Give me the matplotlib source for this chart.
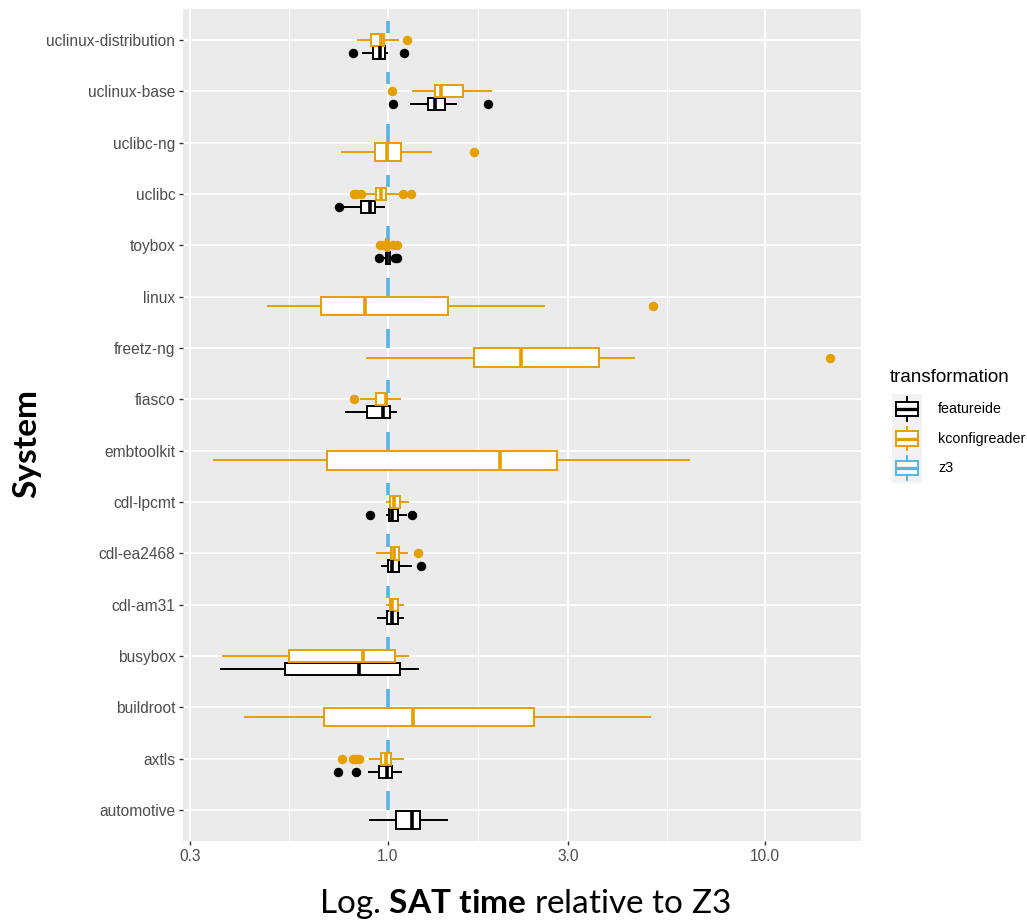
import matplotlib
matplotlib.use("Agg")
import matplotlib.pyplot as plt
from matplotlib.patches import Rectangle
from matplotlib.ticker import FixedLocator, NullFormatter
import numpy as np

plt.rcParams['mathtext.fontset'] = 'custom'
plt.rcParams['mathtext.rm'] = 'Lato'
plt.rcParams['mathtext.bf'] = 'Lato:bold'

# categories, top to bottom
systems = ["uclinux-distribution", "uclinux-base", "uclibc-ng", "uclibc", "toybox",
           "linux", "freetz-ng", "fiasco", "embtoolkit", "cdl-lpcmt", "cdl-ea2468",
           "cdl-am31", "busybox", "buildroot", "axtls", "automotive"]

# featureide box stats (relative SAT time)
fide_systems = ["uclinux-distribution", "uclinux-base", "uclibc", "toybox", "fiasco",
                "cdl-lpcmt", "cdl-ea2468", "cdl-am31", "busybox", "axtls", "automotive"]
fide_lo = [0.857, 1.151, 0.750, 0.975, 0.775, 0.998, 0.968, 0.943, 0.362, 0.892, 0.898]
fide_q1 = [0.912, 1.279, 0.851, 0.990, 0.883, 1.008, 1.002, 0.998, 0.533, 0.948, 1.050]
fide_med = [0.952, 1.332, 0.898, 0.998, 0.971, 1.029, 1.025, 1.025, 0.839, 0.998, 1.158]
fide_q3 = [0.986, 1.419, 0.924, 1.012, 1.012, 1.061, 1.071, 1.061, 1.078, 1.023, 1.216]
fide_hi = [0.998, 1.515, 0.978, 1.030, 1.054, 1.116, 1.151, 1.100, 1.199, 1.083, 1.434]
fide_out = [[0.808, 1.103], [1.033, 1.839], [0.743], [0.945, 1.045, 1.06], [],
            [0.896, 1.158], [1.228], [], [], [0.737, 0.822], []]

# kconfigreader box stats
kconf_systems = ["uclinux-distribution", "uclinux-base", "uclibc-ng", "uclibc", "toybox",
                 "linux", "freetz-ng", "fiasco", "embtoolkit", "cdl-lpcmt", "cdl-ea2468",
                 "cdl-am31", "busybox", "buildroot", "axtls"]
kconf_lo = [0.832, 1.163, 0.754, 0.878, 0.985, 0.481, 0.879, 0.848, 0.346, 0.994, 0.935,
            0.994, 0.367, 0.418, 0.898]
kconf_q1 = [0.901, 1.335, 0.924, 0.931, 0.992, 0.666, 1.694, 0.928, 0.688, 1.014, 1.018,
            1.014, 0.548, 0.678, 0.958]
kconf_med = [0.958, 1.382, 0.998, 0.958, 1.000, 0.871, 2.253, 0.990, 1.983, 1.039, 1.039,
             1.029, 0.860, 1.163, 0.988]
kconf_q3 = [0.976, 1.578, 1.083, 0.988, 1.010, 1.440, 3.620, 0.998, 2.814, 1.078, 1.071,
            1.061, 1.044, 2.445, 1.018]
kconf_hi = [1.063, 1.876, 1.300, 1.069, 1.020, 2.600, 4.480, 1.074, 6.290, 1.132, 1.123,
            1.094, 1.132, 4.950, 1.094]
kconf_out = [[1.123], [1.029], [1.688], [0.814, 0.825, 0.848, 1.094, 1.151],
             [0.955, 0.975, 1.035, 1.06], [5.05], [14.86], [0.814], [], [], [1.204],
             [], [], [], [0.757, 0.81, 0.825, 0.839]]

# z3 is the reference: always 1.0
z3_systems = list(systems)
z3_value = 1.0

groups = ["featureide", "kconfigreader", "z3"]
colors = {"featureide": "#000000", "kconfigreader": "#E69F00", "z3": "#56B4E9"}

W, H = 1027, 921
fig = plt.figure(figsize=(W / 100, H / 100), dpi=100)
ax_l, ax_r, ax_t, ax_b = 183, 861, 9, 841
ax = fig.add_axes([ax_l / W, 1 - ax_b / H, (ax_r - ax_l) / W, (ax_b - ax_t) / H])
ax.set_facecolor("#EBEBEB")

n_sys = len(systems)
ypos = {s: n_sys - 1 - i for i, s in enumerate(systems)}
members = {g: set(m) for g, m in zip(groups, [fide_systems, kconf_systems, z3_systems])}


def dodge(sysname, group):
    present = [g for g in groups if sysname in members[g]]
    n = len(present)
    slot = 0.75 / n
    j = present.index(group)
    return ypos[sysname] + (j - (n - 1) / 2) * slot, slot * 0.96


def make_stats(names, lo, q1, med, q3, hi, out):
    return [dict(whislo=a, q1=b, med=c, q3=d, whishi=e, fliers=f, label=nm)
            for nm, a, b, c, d, e, f in zip(names, lo, q1, med, q3, hi, out)]


fide_stats = make_stats(fide_systems, fide_lo, fide_q1, fide_med, fide_q3, fide_hi, fide_out)
kconf_stats = make_stats(kconf_systems, kconf_lo, kconf_q1, kconf_med, kconf_q3, kconf_hi, kconf_out)
z3_stats = make_stats(z3_systems, *([[z3_value] * len(z3_systems)] * 5), [[] for _ in z3_systems])

for g, st in zip(groups, [fide_stats, kconf_stats, z3_stats]):
    c = colors[g]
    pos, wid = zip(*[dodge(s["label"], g) for s in st])
    ax.bxp(st, positions=pos, widths=wid, orientation="horizontal", patch_artist=True,
           showcaps=False, manage_ticks=False,
           boxprops=dict(facecolor="white", edgecolor=c, linewidth=1.4),
           whiskerprops=dict(color=c, linewidth=1.4),
           medianprops=dict(color=c, linewidth=2.6, solid_capstyle="butt"),
           flierprops=dict(marker="o", markerfacecolor=c, markeredgecolor=c,
                           markersize=5.8, linestyle="none"))

ax.set_xscale("log")
ax.set_xlim(0.2867, 17.93)
ax.set_ylim(-0.6, n_sys - 0.4)
ax.set_xticks([0.3, 1, 3, 10])
ax.set_xticklabels(["0.3", "1.0", "3.0", "10.0"])
ax.xaxis.set_minor_locator(FixedLocator([np.sqrt(0.3), np.sqrt(3), np.sqrt(30)]))
ax.xaxis.set_minor_formatter(NullFormatter())
ax.set_yticks([ypos[s] for s in systems])
ax.set_yticklabels(systems)
ax.grid(which="major", color="white", linewidth=1.4)
ax.grid(which="minor", axis="x", color="white", linewidth=0.7)
ax.set_axisbelow(True)
for sp in ax.spines.values():
    sp.set_visible(False)
ax.tick_params(which="major", length=3, width=1.0, color="#333333", labelcolor="#4D4D4D",
               labelsize=11.2, pad=2.5)
ax.tick_params(which="minor", length=0)
for lab in ax.get_xticklabels() + ax.get_yticklabels():
    lab.set_fontfamily("Liberation Sans")

# overlay in pixel coordinates for titles and legend
ov = fig.add_axes([0, 0, 1, 1])
ov.set_xlim(0, W)
ov.set_ylim(H, 0)
ov.axis("off")
ov.patch.set_alpha(0)

ov.text((ax_l + ax_r) / 2 + 3, 904, "Log. $\\mathbf{SAT}$ $\\mathbf{time}$ relative to Z3",
        ha="center", va="center", fontsize=24, family="Lato")
ov.text(27, 443, "System", rotation=90, ha="center", va="center", fontsize=24,
        family="Lato", fontweight="bold")

ov.text(890, 377, "transformation", ha="left", va="center", fontsize=13.5,
        family="Liberation Sans")
ks = 29.5
for k, g in enumerate(groups):
    c = colors[g]
    cy = 409 + ks * k
    x0 = 892
    ov.add_patch(Rectangle((x0, cy - ks / 2), ks, ks, facecolor="#F2F2F2", edgecolor="none"))
    ov.add_patch(Rectangle((x0 + ks * 0.125, cy - ks * 0.25), ks * 0.75, ks * 0.5,
                           facecolor="white", edgecolor=c, linewidth=1.4))
    xc = x0 + ks / 2
    ov.plot([xc, xc], [cy - ks * 0.4, cy - ks * 0.25], color=c, linewidth=1.4)
    ov.plot([xc, xc], [cy + ks * 0.25, cy + ks * 0.4], color=c, linewidth=1.4)
    ov.plot([x0 + ks * 0.125, x0 + ks * 0.875], [cy, cy], color=c, linewidth=2.4,
            solid_capstyle="butt")
    ov.text(938, cy, g, ha="left", va="center", fontsize=10.3, family="Liberation Sans")

fig.savefig("out.png", dpi=100)
